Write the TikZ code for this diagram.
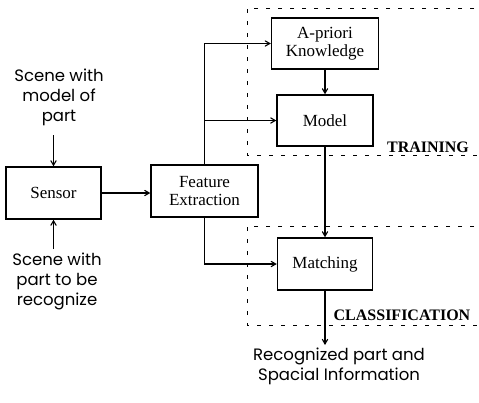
\documentclass[tikz,border=0pt]{standalone}
\usepackage{fontspec}
\setmainfont{Liberation Serif}
\newfontfamily\gothic{Poppins}
\usetikzlibrary{shapes}
\usetikzlibrary{arrows}

\begin{document}
\begin{tikzpicture}[x=1pt,y=-1pt]
			\tikzstyle{block}=[rectangle,draw,line width=1.4pt,align=center,inner sep=0pt,font=\fontsize{17}{18.5}\selectfont]
			\tikzstyle{note}=[align=center,inner sep=0pt,font=\gothic\fontsize{16.5}{20}\selectfont]
			\tikzstyle{phase}=[dashed,dash pattern=on 4pt off 8pt,line width=0.6pt]
			\tikzstyle{tag}=[inner sep=0pt,font=\fontsize{16}{18}\selectfont\bfseries]
			\tikzstyle{flow}=[->,>=angle 60,line width=1.1pt]
			\useasboundingbox (0,0) rectangle (479,402);
			
			% dashed phase frames
			\draw[phase] (486,8) -- (247,8) -- (247,155) -- (486,155);
			\draw[phase] (486,226) -- (247,226) -- (247,325) -- (486,325);
			\node[tag] (training) at (428,147) {TRAINING};
			\node[tag] (classification) at (402,315) {CLASSIFICATION};
			
			% blocks
			\node[block,minimum width=95pt,minimum height=52pt] (sensor) at (53.5,193) {Sensor};
			\node[block,minimum width=107pt,minimum height=52pt] (feature) at (204.5,191) {Feature\\Extraction};
			\node[block,minimum width=107pt,minimum height=51pt] (apriori) at (325,43.5) {A-priori\\Knowledge};
			\node[block,minimum width=96pt,minimum height=51pt] (model) at (325,120.5) {Model};
			\node[block,minimum width=95pt,minimum height=52pt] (matching) at (325,264) {Matching};
			
			% inputs and output
			\node[note] (scenemodel) at (59,97) {Scene with\\model of\\part};
			\node[note] (scenepart) at (57,281) {Scene with\\part to be\\recognize};
			\node[note] (result) at (339,366) {Recognized part and\\Spacial Information};
			\coordinate (in1) at (53.5,135);
			\coordinate (in2) at (53.5,249);
			\coordinate (out) at (325,345);
			
			\draw[flow] (in1) -- (sensor.north);
			\draw[flow] (in2) -- (sensor.south);
			\draw[flow] (sensor.east) -- (feature.west |- sensor.east);
			\draw[flow] (feature.north) |- (apriori.west);
			\draw[flow] (feature.north) |- (model.west);
			\draw[flow] (feature.south) |- (matching.west);
			\draw[flow] (apriori.south) -- (model.north);
			\draw[flow] (model.south) -- (matching.north);
			\draw[flow] (matching.south) -- (out);
\end{tikzpicture}
\end{document}
